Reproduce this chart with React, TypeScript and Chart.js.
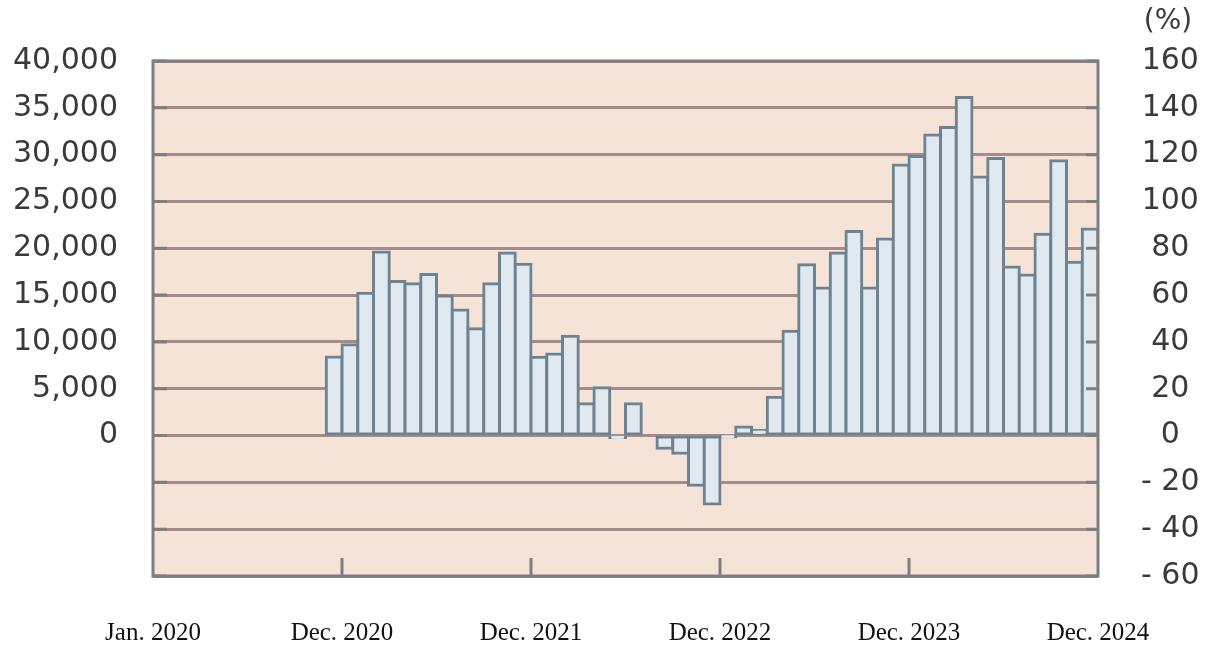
import React, { useEffect, useRef } from "react";
import { Chart, registerables } from "chart.js";

Chart.register(...registerables);

// 60 monthly slots: Jan 2020 .. Dec 2024 (bars start at Dec 2020)
const months: string[] = [
  "2020-01","2020-02","2020-03","2020-04","2020-05","2020-06","2020-07","2020-08","2020-09","2020-10","2020-11","2020-12",
  "2021-01","2021-02","2021-03","2021-04","2021-05","2021-06","2021-07","2021-08","2021-09","2021-10","2021-11","2021-12",
  "2022-01","2022-02","2022-03","2022-04","2022-05","2022-06","2022-07","2022-08","2022-09","2022-10","2022-11","2022-12",
  "2023-01","2023-02","2023-03","2023-04","2023-05","2023-06","2023-07","2023-08","2023-09","2023-10","2023-11","2023-12",
  "2024-01","2024-02","2024-03","2024-04","2024-05","2024-06","2024-07","2024-08","2024-09","2024-10","2024-11","2024-12",
];

const values: (number | null)[] = [
  null, null, null, null, null, null, null, null, null, null, null, 8400,
  9700, 15200, 19600, 16450, 16200, 17200, 14900, 13400, 11400, 16200, 19500, 18300,
  8350, 8700, 10600, 3400, 5100, -200, 3400, null, -1350, -1900, -5300, -7300,
  -100, 900, 550, 4100, 11150, 18250, 15750, 19500, 21800, 15750, 21000, 28900,
  29800, 32100, 32900, 36100, 27600, 29600, 18000, 17150, 21500, 29350, 18500, 22050,
];

const xTickLabels: string[] = ["Jan. 2020", "Dec. 2020", "Dec. 2021", "Dec. 2022", "Dec. 2023", "Dec. 2024"];

const leftMin = -15000;
const leftMax = 40000;
const leftStep = 5000;
const rightMin = -60;
const rightMax = 160;
const rightStep = 20;

const PLOT_BG = "#f6e3d7";
const GRID = "#a58b8b";
const FRAME = "#7e7e7e";
const BAR_FILL = "#e0e8f0";
const BAR_BORDER = "#6e8390";
const TEXT = "#3a3a3a";

const decorPlugin = {
  id: "decor",
  beforeDraw(chart: any) {
    const { ctx, chartArea } = chart;
    const { left, top, right, bottom } = chartArea;
    ctx.save();
    ctx.fillStyle = "#ffffff";
    ctx.fillRect(0, 0, chart.width, chart.height);
    ctx.fillStyle = PLOT_BG;
    ctx.fillRect(left, top, right - left, bottom - top);
    ctx.restore();
  },
  afterDatasetsDraw(chart: any) {
    const { ctx, chartArea } = chart;
    const { left, top, right, bottom } = chartArea;
    const y = chart.scales.y;
    const x = chart.scales.x;
    ctx.save();
    ctx.strokeStyle = FRAME;
    ctx.lineWidth = 3;
    ctx.beginPath();
    y.ticks.forEach((t: any) => {
      const py = y.getPixelForValue(t.value);
      ctx.moveTo(left, py);
      ctx.lineTo(left + 14, py);
      ctx.moveTo(right - 12, py);
      ctx.lineTo(right, py);
    });
    x.ticks.forEach((t: any) => {
      if (t.value <= 0 || t.value >= 60) return;
      const px = x.getPixelForValue(t.value);
      ctx.moveTo(px, bottom);
      ctx.lineTo(px, bottom - 18);
    });
    ctx.stroke();
    ctx.strokeRect(left, top, right - left, bottom - top);
    ctx.restore();
  },
  afterDraw(chart: any) {
    const { ctx } = chart;
    const r = chart.scales.y1;
    ctx.save();
    ctx.fillStyle = TEXT;
    ctx.font = "28px 'DejaVu Sans'";
    ctx.textAlign = "center";
    ctx.textBaseline = "middle";
    ctx.fillText("(%)", r.left + 70, 22);
    ctx.restore();
  },
};

export default function App() {
  const ref = useRef<HTMLCanvasElement | null>(null);

  useEffect(() => {
    if (!ref.current) return;
    const data = values.map((v, i) => ({ x: i + 0.5, y: v, m: months[i] }));
    const chart = new Chart(ref.current, {
      type: "bar",
      data: {
        datasets: [
          {
            data: data as any,
            yAxisID: "y",
            backgroundColor: BAR_FILL,
            borderColor: BAR_BORDER,
            borderWidth: 3,
            borderSkipped: false,
            inflateAmount: 1.5,
            barPercentage: 1,
            categoryPercentage: 1,
          },
        ],
      },
      options: {
        responsive: false,
        animation: false,
        layout: { padding: { top: 58, left: 0, right: 0, bottom: 0 } },
        plugins: { legend: { display: false }, tooltip: { enabled: false } },
        scales: {
          x: {
            type: "linear",
            min: 0,
            max: 60,
            offset: false,
            grid: { display: false, offset: false, drawTicks: false },
            border: { display: false },
            afterFit: (s: any) => { s.height = 72; },
            ticks: {
              stepSize: 12,
              autoSkip: false,
              maxRotation: 0,
              padding: 42,
              color: "#111111",
              font: { family: "'Liberation Serif', serif", size: 25 },
              callback: (v: any) => {
                const idx = Math.round(Number(v) / 12);
                return xTickLabels[idx] ?? "";
              },
            },
          },
          y: {
            position: "left",
            min: leftMin,
            max: leftMax,
            afterFit: (s: any) => { s.width = 153; },
            grid: { color: GRID, lineWidth: 3, drawTicks: false },
            border: { display: false },
            ticks: {
              stepSize: leftStep,
              padding: 35,
              color: TEXT,
              font: { family: "'DejaVu Sans'", size: 30 },
              callback: (v: any) => (Number(v) < 0 ? "" : Number(v).toLocaleString("en-US")),
            },
          },
          y1: {
            position: "right",
            min: rightMin,
            max: rightMax,
            afterFit: (s: any) => { s.width = 115; },
            grid: { display: false, drawTicks: false },
            border: { display: false },
            ticks: {
              stepSize: rightStep,
              padding: 43,
              crossAlign: "center",
              color: TEXT,
              font: { family: "'DejaVu Sans'", size: 30 },
              callback: (v: any) => (Number(v) < 0 ? "- " + Math.abs(Number(v)) : String(v)),
            },
          },
        },
      } as any,
      plugins: [decorPlugin],
    });
    return () => chart.destroy();
  }, []);

  return (
    <div style={{ position: "fixed", left: 0, top: 0, width: 1213, height: 648, background: "#fff" }}>
      <canvas ref={ref} width={1213} height={648} style={{ display: "block" }} />
    </div>
  );
}
